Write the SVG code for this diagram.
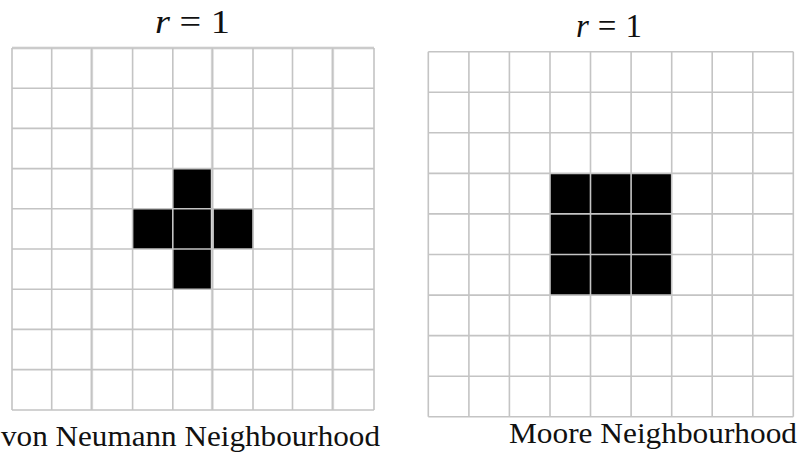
<svg xmlns="http://www.w3.org/2000/svg" width="800" height="452" viewBox="0 0 800 452">
  <style>
    .grid { stroke: #c4c4c4; stroke-width: 1.6; fill: none; }
    .soft { stroke: #e2e2e2; stroke-width: 3; fill: none; }
    .cell { fill: #000; }
    .title { font-family: "Liberation Serif", "Times New Roman", serif; font-size: 33px; fill: #111; }
    .label { font-family: "Liberation Serif", "Times New Roman", serif; font-size: 29px; fill: #111; }
  </style>
  <rect width="800" height="452" fill="#fff"/>

  <g id="von-neumann">
    <text class="title" x="155" y="33" textLength="75" lengthAdjust="spacingAndGlyphs"><tspan font-style="italic">r</tspan> = 1</text>
    <g id="vn-cells">
      <rect class="cell" x="172.8" y="168.6" width="40.2" height="40.2"/>
      <rect class="cell" x="132.6" y="208.8" width="120.6" height="40.2"/>
      <rect class="cell" x="172.8" y="249" width="40.2" height="40.2"/>
    </g>
    <g id="vn-grid">
      <path class="soft" d="M91.7 48V410M212.3 48V410M332.7 48V410M12 48H374"/>
      <path class="grid" d="M12 48V410M51.7 48V410M91.7 48V410M132.6 48V410M172.8 48V410M212.3 48V410M253 48V410M292.5 48V410M332.7 48V410M374 48V410
        M12 48H374M12 88.2H374M12 128.4H374M12 168.6H374M12 208.8H374M12 249H374M12 289.2H374M12 329.4H374M12 369.6H374M12 410H374"/>
    </g>
    <text class="label" x="1" y="446" textLength="379" lengthAdjust="spacingAndGlyphs">von Neumann Neighbourhood</text>
  </g>

  <g id="moore">
    <text class="title" x="576" y="37" textLength="66" lengthAdjust="spacing"><tspan font-style="italic">r</tspan>=1</text>
    <g id="moore-cells">
      <rect class="cell" x="550" y="173.4" width="121.7" height="121.7"/>
    </g>
    <g id="moore-grid">
      <path class="grid" d="M428.3 51.7V416.7M468.9 51.7V416.7M509.4 51.7V416.7M550 51.7V416.7M590.5 51.7V416.7M631.1 51.7V416.7M671.7 51.7V416.7M712.2 51.7V416.7M752.8 51.7V416.7M793.3 51.7V416.7
        M428.3 51.7H793.3M428.3 92.3H793.3M428.3 132.8H793.3M428.3 173.4H793.3M428.3 213.9H793.3M428.3 254.5H793.3M428.3 295.1H793.3M428.3 335.6H793.3M428.3 376.2H793.3M428.3 416.7H793.3"/>
    </g>
    <text class="label" x="509" y="443" textLength="288" lengthAdjust="spacingAndGlyphs">Moore Neighbourhood</text>
  </g>
</svg>
